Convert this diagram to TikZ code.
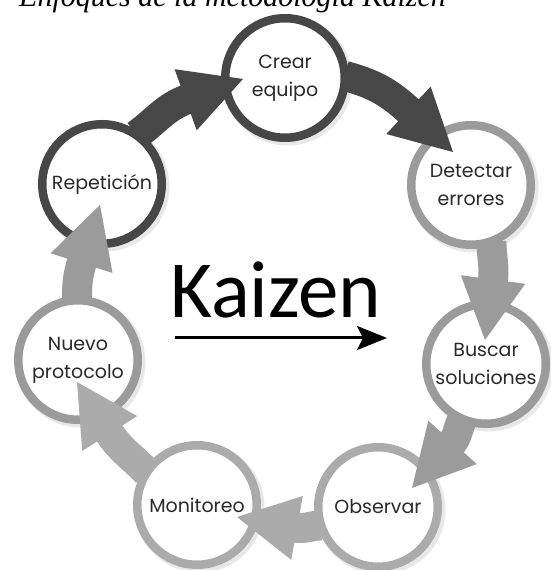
\documentclass[tikz,border=0pt]{standalone}
\usepackage{fontspec}
\setmainfont{Liberation Serif}
\newfontfamily\stagefont{Poppins}
\newfontfamily\bigfont{Carlito}
\usetikzlibrary{arrows.meta,backgrounds,calc}
\definecolor{inkdark}{HTML}{474747}
\definecolor{inkmid}{HTML}{9B9B9B}
\definecolor{inklight}{HTML}{ABABAB}
\definecolor{txt}{HTML}{2A2A2A}
% block arrow: #1 colour, #2 tail point, #3 tip point,
% #4 heading of the head, #5 heading where the shaft leaves, #6 angle it arrives from
\newcommand\kzflow[6]{%
  \path #3 coordinate (kztip) ++(#4+180:61pt) coordinate (kzbase);
  \draw[#1,line width=30pt] #2 to[out=#5,in=#6] ($(kzbase)!2pt!(kztip)$);
  \fill[#1] (kztip) -- ($(kzbase)+(#4+90:32.5pt)$) -- ($(kzbase)+(#4-90:32.5pt)$) -- cycle;
}
\begin{document}
\begin{tikzpicture}[x=1pt,y=1pt,
  stage/.style={circle,draw=#1,line width=8.5pt,fill=white,minimum size=119.5pt,inner sep=0pt,outer sep=0pt},
  stagetext/.style={font=\stagefont\fontsize{19}{28}\selectfont,text=txt,align=center}
]
\useasboundingbox (0,0) rectangle (551,570);

% title (only its lower part falls on the page)
\node[anchor=base west,inner sep=0pt,font=\itshape\fontsize{30}{30}\selectfont] (title) at (19,563) {Enfoques de la metodología Kaizen};

% the seven stages of the cycle
\node[stage=inkdark]  (crear)  at (285,492) {};
\node[stage=inkmid]   (detect) at (471,385) {};
\node[stage=inkmid]   (buscar) at (486,206) {};
\node[stage=inklight] (observ) at (378,63)  {};
\node[stage=inklight] (monit)  at (197,65)  {};
\node[stage=inkmid]   (nuevo)  at (78,210)  {};
\node[stage=inkdark]  (repet)  at (102,386) {};

% soft shadows under the rings
\begin{pgfonlayer}{background}
\foreach \n in {crear,detect,buscar,observ,monit,nuevo,repet}
  \fill[black!9] ([shift={(2.5pt,-2.5pt)}]\n.center) circle (65pt);
\end{pgfonlayer}

% block arrows between stages
\kzflow{inkdark} {(repet.55)}  {($(crear)+(-42,-1)$)}  {19.9}  {35}  {199.9}
\kzflow{inkdark} {(crear.2)}   {($(detect)+(-18,33)$)} {-43.1} {-15} {136.9}
\kzflow{inkmid}  {(detect.290)}{($(buscar)+(-1,24)$)}  {262.4} {270} {82.4}
\kzflow{inkmid}  {(buscar.247)}{($(observ)+(34,19)$)}  {228.3} {240} {48.3}
\kzflow{inklight}{(observ.198)}{($(monit)+(40,-12)$)}  {169.7} {180} {-10.3}
\kzflow{inklight}{(monit.147)} {($(nuevo)+(-1,-22)$)}  {122.4} {133} {302.4}
\kzflow{inkmid}  {(nuevo.91)}  {($(repet)+(-2,-21)$)}  {72.4}  {90}  {252.4}

% stage labels
\node[stagetext] at (crear)  {Crear\\equipo};
\node[stagetext] at (detect) {Detectar\\errores};
\node[stagetext] at (buscar) {Buscar\\soluciones};
\node[stagetext] at (observ) {Observar};
\node[stagetext] at (monit)  {Monitoreo};
\node[stagetext] at (nuevo)  {Nuevo\\protocolo};
\node[stagetext] at (repet)  {Repetición};

% central caption
\node[anchor=base west,inner sep=0pt,font=\bigfont\fontsize{81}{81}\selectfont] (kaizen) at (170,252) {Kaizen};
\coordinate (ka) at (175,232);
\coordinate (kb) at (387,232);
\draw[line width=3pt,-{Stealth[length=30pt,width=24pt,inset=6pt]}] (ka) -- (kb);
\end{tikzpicture}
\end{document}
